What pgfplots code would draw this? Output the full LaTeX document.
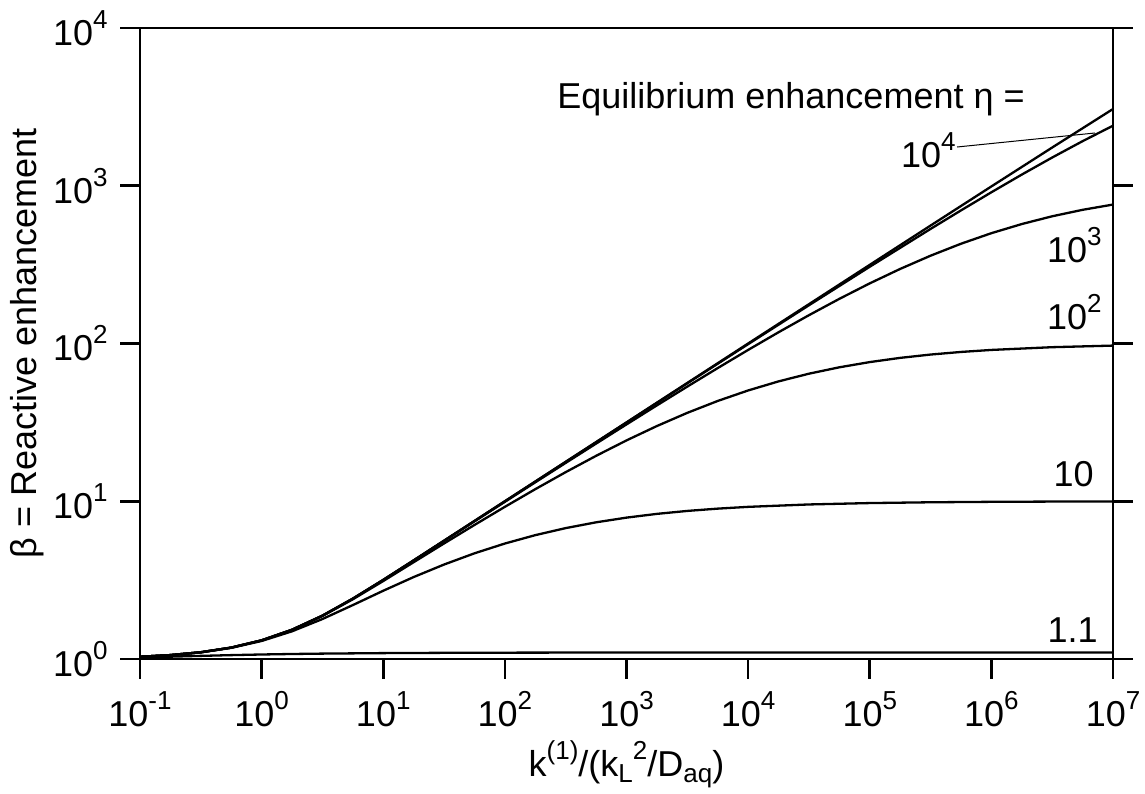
\documentclass[border=0pt]{standalone}
\usepackage{fontspec}
\setmainfont{Liberation Sans}
\usepackage{pgfplots}
\pgfplotsset{compat=1.18}
\newcommand{\sups}[1]{\raisebox{8.5pt}{\fontsize{13}{13}\selectfont #1}}
\newcommand{\subs}[1]{\raisebox{-3pt}{\fontsize{13}{13}\selectfont #1}}
\pgfplotsset{curve/.style={black, solid, line width=1.15pt, line join=round, mark=none}}
\begin{document}
\fontsize{18}{21}\selectfont
\begin{tikzpicture}
\begin{axis}[
  name=ax,
  xmode=log, ymode=log,
  scale only axis, width=486.5pt, height=315.5pt,
  xmin=0.1, xmax=1e7, ymin=1, ymax=1e4,
  xtick={0.1,1,10,100,1000,1e4,1e5,1e6,1e7},
  xticklabels={10\sups{-1},10\sups{0},10\sups{1},10\sups{2},10\sups{3},10\sups{4},10\sups{5},10\sups{6},10\sups{7}},
  ytick={1,10,100,1000,1e4},
  yticklabels={10\sups{0},10\sups{1},10\sups{2},10\sups{3},10\sups{4}},
  xminorticks=false, yminorticks=false,
  tick align=outside, xtick pos=left, ytick pos=both,
  major tick length=10pt,
  axis line style={line width=1.3pt},
  every tick/.style={black, line width=1.3pt},
  tick label style={font=\fontsize{18}{21}\selectfont},
  xlabel={k\sups{(1)}/(k\subs{L}\sups{2}/D\subs{aq})},
  ylabel={β = Reactive enhancement},
  label style={font=\fontsize{18}{21}\selectfont},
  xlabel style={at={(rel axis cs:0.5,-0.187)}, anchor=base},
  ylabel style={at={(rel axis cs:-0.116,0.5)}, anchor=center},
  clip=false,
]
% eta = 1.1
\addplot[curve] coordinates {(0.1,1.0237) (0.1778,1.0345) (0.3162,1.0465) (0.5623,1.0580) (1,1.0679) (1.778,1.0757) (3.162,1.0817) (10,1.0896) (31.62,1.0941) (100,1.0967) (316.2,1.0982) (1000,1.0990) (1e4,1.0997) (1e5,1.0999) (1e7,1.1)};
% eta = 10
\addplot[curve] coordinates {(0.1,1.0330) (0.1778,1.0581) (0.3162,1.1018) (0.5623,1.1765) (1,1.3006) (1.778,1.4978) (3.162,1.7920) (5.623,2.1967) (10,2.7077) (17.78,3.3068) (31.62,3.9709) (56.23,4.6760) (100,5.3943) (177.8,6.0966) (316.2,6.7561) (562.3,7.3526) (1000,7.8740) (1778,8.3162) (3162,8.6818) (5623,8.9778) (1e4,9.2134) (3.162e4,9.5419) (1e5,9.7371) (3.162e5,9.8504) (1e6,9.9153) (3.162e6,9.9522) (1e7,9.9731)};
% eta = 100
\addplot[curve] coordinates {(0.1,1.0331) (0.1778,1.0586) (0.3162,1.1031) (0.5623,1.1804) (1,1.3119) (1.778,1.5292) (3.162,1.8736) (5.623,2.3902) (10,3.1210) (17.78,4.1069) (31.62,5.4004) (56.23,7.0742) (100,9.2163) (177.8,11.924) (316.2,15.292) (562.3,19.403) (1000,24.302) (1778,29.977) (3162,36.341) (5623,43.223) (1e4,50.377) (1.778e4,57.515) (3.162e4,64.353) (5.623e4,70.652) (1e5,76.249) (1.778e5,81.07) (3.162e5,85.094) (5.623e5,88.39) (1e6,91.033) (3.162e6,94.751) (1e7,96.979)};
% eta = 1000
\addplot[curve] coordinates {(0.1,1.0331) (0.1778,1.0586) (0.3162,1.1032) (0.5623,1.1807) (1,1.3128) (1.778,1.5322) (3.162,1.8818) (5.623,2.4110) (10,3.1683) (17.78,4.2073) (31.62,5.6003) (56.23,7.4543) (100,9.9157) (177.8,13.179) (316.2,17.498) (562.3,23.198) (1000,30.698) (1778,40.520) (3162,53.316) (5623,69.857) (1e4,91.033) (1.778e4,117.81) (3.162e4,151.17) (5.623e4,191.91) (1e5,240.53) (1.778e5,296.93) (3.162e5,360.28) (5.623e5,428.91) (1e6,500.38) (1.778e6,571.81) (3.162e6,640.41) (5.623e6,703.70) (1e7,760.02)};
% eta = 10^4
\addplot[curve] coordinates {(0.1,1.0331) (0.1778,1.0586) (0.3162,1.1032) (0.5623,1.1808) (1,1.3130) (1.778,1.5326) (3.162,1.8828) (5.623,2.4131) (10,3.1737) (17.78,4.2188) (31.62,5.6236) (56.23,7.4989) (100,9.9915) (316.2,17.75) (1000,31.527) (3162,55.928) (1e4,99.025) (3.162e4,174.74) (1e5,306.57) (3.162e5,532.48) (5.623e5,697.7) (1e6,909.22) (1.778e6,1176.8) (3.162e6,1510.0) (5.623e6,1917.1) (1e7,2402.8)};
% upper limit
\addplot[curve] coordinates {(0.1,1.0331) (0.1778,1.0586) (0.3162,1.1032) (0.5623,1.1808) (1,1.3130) (1.778,1.5326) (3.162,1.8828) (5.623,2.4131) (10,3.1737) (17.78,4.2188) (31.62,5.6236) (56.23,7.4989) (100,10) (316.2,17.783) (1000,31.623) (3162,56.234) (1e4,100) (3.162e4,177.5) (1e5,315.24) (3.162e5,559.2) (1e6,990.1) (3.162e6,1747.3) (1e7,3065.6)};
\node[anchor=base east] at (rel axis cs:0.922,0.873) {Equilibrium enhancement η =};
\node[anchor=base east, inner sep=0pt] at (rel axis cs:0.8386,0.7797) {10\sups{4}};
\node[anchor=base east, inner sep=0pt] at (rel axis cs:0.9887,0.6276) {10\sups{3}};
\node[anchor=base east, inner sep=0pt] at (rel axis cs:0.9887,0.5214) {10\sups{2}};
\node[anchor=base east, inner sep=0pt] at (rel axis cs:0.9805,0.2726) {10};
\node[anchor=base east, inner sep=0pt] at (rel axis cs:0.9846,0.0254) {1.1};
\draw[line width=0.5pt] (rel axis cs:0.8397,0.8114) -- (rel axis cs:0.9815,0.8336);
\end{axis}
\pgfresetboundingbox
\path ([shift={(-70pt,-67.5pt)}]ax.south west) rectangle ([shift={(16pt,14pt)}]ax.north east);
\end{tikzpicture}
\end{document}
